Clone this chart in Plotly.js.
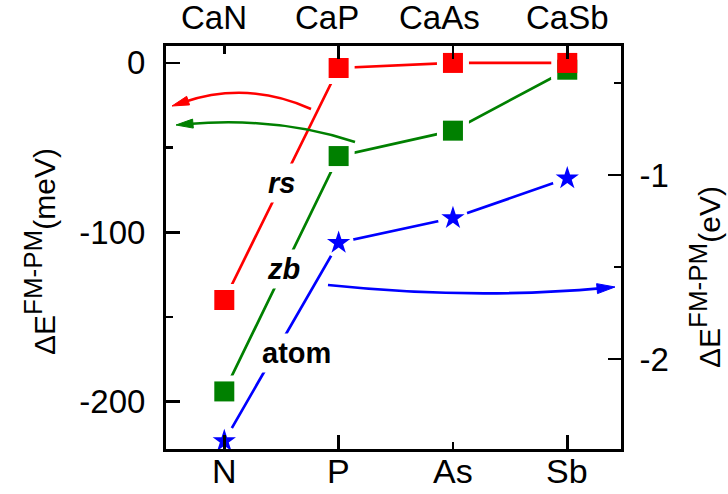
<!DOCTYPE html>
<html>
<head>
<meta charset="utf-8">
<script src="https://cdn.plot.ly/plotly-3.0.1.min.js"></script>
<style>html,body{margin:0;padding:0;background:#fff;}#chart{width:728px;height:494px;}</style>
</head>
<body>
<div id="chart"></div>
<script>
// ---- data ----
const elements = ['N', 'P', 'As', 'Sb'];
const compounds = ['CaN', 'CaP', 'CaAs', 'CaSb'];
const rsMeV = [-140, -3, 0, 0];          // rock-salt, left axis (meV)
const zbMeV = [-194, -55, -40, -4];      // zinc-blende, left axis (meV)
const atomEV = [-2.446, -1.368, -1.234, -1.018]; // atom, right axis (eV)

const idx = elements.map((_, i) => i);

// ---- geometry helpers (plot area in px) ----
const L = 166, R = 621, T = 46, B = 449;
function pp(x, y) { return [(x - L) / (R - L), (B - y) / (B - T)]; }
function P(x, y) { const p = pp(x, y); return p[0].toFixed(4) + ',' + p[1].toFixed(4); }
function curvedArrow(p0, p1, tip, color, w, headLen, headHalf) {
  const dx = tip[0] - p1[0], dy = tip[1] - p1[1];
  const n = Math.hypot(dx, dy), ux = dx / n, uy = dy / n;
  const base = [tip[0] - ux * headLen * 0.7, tip[1] - uy * headLen * 0.7];
  const hb = [tip[0] - ux * headLen, tip[1] - uy * headLen];
  const left = [hb[0] - uy * headHalf, hb[1] + ux * headHalf];
  const right = [hb[0] + uy * headHalf, hb[1] - ux * headHalf];
  return [
    {type: 'path', xref: 'paper', yref: 'paper', path: `M${P(...p0)} Q${P(...p1)} ${P(...base)}`,
     line: {color: color, width: w}, fillcolor: 'rgba(0,0,0,0)'},
    {type: 'path', xref: 'paper', yref: 'paper', path: `M${P(...tip)} L${P(...left)} L${P(...right)} Z`,
     line: {color: color, width: 1}, fillcolor: color}
  ];
}

const RED = '#ff0000', GREEN = '#008000', BLUE = '#0000ff';
const LW = 2.7;

function lineMask(y, color, maskSymbol, maskSize, xa, ya) {
  return {x: idx, y: y, xaxis: xa, yaxis: ya, mode: 'lines+markers', hoverinfo: 'skip',
    line: {color: color, width: LW},
    marker: {symbol: maskSymbol, size: maskSize, color: 'white', line: {width: 0}}};
}
function marks(y, color, symbol, size, xa, ya) {
  return {x: idx, y: y, xaxis: xa, yaxis: ya, mode: 'markers', hoverinfo: 'skip',
    marker: {symbol: symbol, size: size, color: color, line: {width: 0}}};
}

const traces = [
  lineMask(zbMeV, GREEN, 'square', 32, 'x', 'y'),
  lineMask(rsMeV, RED, 'square', 32, 'x', 'y'),
  marks(zbMeV, GREEN, 'square', 20, 'x', 'y'),
  marks(rsMeV, RED, 'square', 20, 'x', 'y'),
  lineMask(atomEV, BLUE, 'circle', 30, 'x2', 'y2'),
  marks(atomEV, BLUE, 'star', 17.5, 'x2', 'y2')
];

const FONT = 'Liberation Sans, Arial, Helvetica, sans-serif';
const axisCommon = {showgrid: false, zeroline: false, showline: true, linecolor: 'black', linewidth: 3,
  ticks: 'inside', tickcolor: 'black', tickwidth: 2.5, fixedrange: true};
const minorCommon = {tickmode: 'array', ticks: 'inside', ticklen: 7, tickwidth: 2.5, tickcolor: 'black', showgrid: false};

const xr = [-0.51, 3.47];
const shapes = [].concat(
  curvedArrow([311, 109], [248, 80.5], [172, 106], RED, 2.5, 17, 4.5),
  curvedArrow([355, 142], [278, 116.5], [176, 125], GREEN, 2.5, 17, 4.5),
  curvedArrow([328, 285], [471, 300], [615, 287], BLUE, 2.7, 18, 5)
);

// top (compound) labels and bottom (element) labels
const topShift = [-10, -12, -13, 0];
const annotations = compounds.map((c, i) => ({
  text: c, x: i, xref: 'x', y: pp(0, 17.6)[1], yref: 'paper', xshift: topShift[i],
  xanchor: 'center', yanchor: 'middle', showarrow: false, font: {size: 33, color: 'black', family: FONT}
}));
elements.forEach((e, i) => annotations.push({
  text: e, x: i, xref: 'x', y: pp(0, 471.5)[1], yref: 'paper',
  xanchor: 'center', yanchor: 'middle', showarrow: false, font: {size: 34, color: 'black', family: FONT}
}));
function lab(text, cx, cy) {
  const p = pp(cx, cy);
  return {text: text, x: p[0], y: p[1], xref: 'paper', yref: 'paper', xanchor: 'center', yanchor: 'middle',
    showarrow: false, bgcolor: 'white', borderpad: 3, font: {size: 29, color: 'black', family: FONT}};
}
annotations.push(lab('<b><i>rs</i></b>', 281.5, 182.7));
annotations.push(lab('<b><i>zb</i></b>', 283.3, 269.3));
annotations.push(lab('<b>atom</b>', 296.7, 353.3));
function title(text, cx, cy) {
  const p = pp(cx, cy);
  return {text: text, x: p[0], y: p[1], xref: 'paper', yref: 'paper', xanchor: 'center', yanchor: 'middle',
    textangle: -90, showarrow: false, font: {size: 30, color: 'black', family: FONT}};
}
annotations.push(title('ΔE<sup><span style="font-size:26px">FM-PM</span></sup>(meV)', 40, 252));
annotations.push(title('ΔE<sup><span style="font-size:26px">FM-PM</span></sup>(eV)', 704, 277));

const layout = {
  width: 728, height: 494,
  margin: {l: L, r: 728 - R, t: T, b: 494 - B, pad: 0},
  paper_bgcolor: 'white', plot_bgcolor: 'white', showlegend: false,
  font: {family: FONT, color: 'black'},
  xaxis: Object.assign({}, axisCommon, {range: xr, tickmode: 'array', tickvals: [0, 1, 3],
    ticklen: 14, showticklabels: false, minor: Object.assign({}, minorCommon, {tickvals: [2]})}),
  yaxis: Object.assign({}, axisCommon, {range: [-228, 10], tickmode: 'array', tickvals: [0, -100, -200],
    ticktext: ['0', '-100', '-200'], ticklen: 14, tickfont: {size: 33}, ticklabelstandoff: 11,
    minor: Object.assign({}, minorCommon, {tickvals: [-50, -150]})}),
  xaxis2: Object.assign({}, axisCommon, {range: xr, overlaying: 'x', side: 'top', anchor: 'y2', tickmode: 'array',
    tickvals: [1, 2, 3], ticklen: 13, showticklabels: false, minor: Object.assign({}, minorCommon, {tickvals: [0], ticklen: 8})}),
  yaxis2: Object.assign({}, axisCommon, {range: [-2.489, -0.299], overlaying: 'y', side: 'right', anchor: 'x2',
    tickmode: 'array', tickvals: [-1, -2], ticktext: ['-1', '-2'], ticklen: 13, tickfont: {size: 33}, ticklabelstandoff: 9,
    minor: Object.assign({}, minorCommon, {tickvals: [-0.5, -1.5]})}),
  shapes: shapes,
  annotations: annotations
};

Plotly.newPlot('chart', traces, layout, {staticPlot: true, displayModeBar: false});
</script>
</body>
</html>
